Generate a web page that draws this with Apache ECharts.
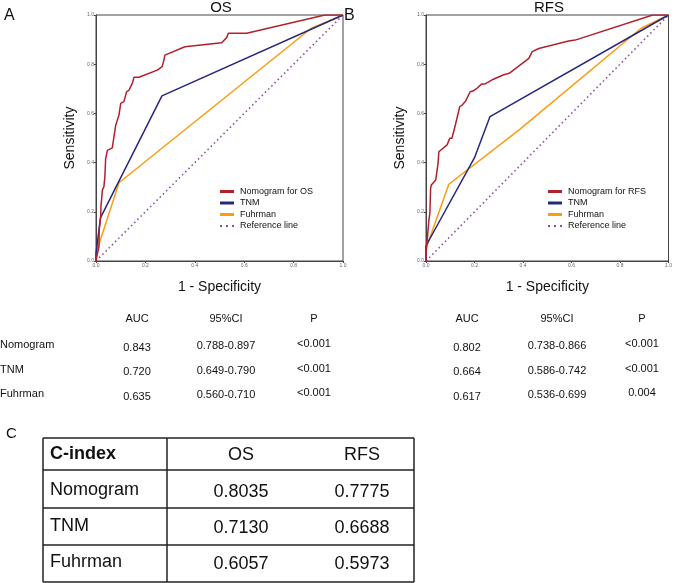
<!DOCTYPE html>
<html>
<head>
<meta charset="utf-8">
<script src="https://cdn.jsdelivr.net/npm/echarts@6/dist/echarts.min.js"></script>
<style>html,body{margin:0;padding:0;background:#fff}#c{width:675px;height:583px}</style>
</head>
<body>
<div id="c"></div>
<script>
// ---- Data ----
const tickLabels = ['0.0','0.2','0.4','0.6','0.8','1.0'];
// Panel A (OS)
const osNomoFpr  = [0,0.003,0.012,0.013,0.019,0.020,0.026,0.032,0.036,0.039,0.046,0.053,0.066,0.080,0.093,0.100,0.113,0.124,0.134,0.147,0.154,0.174,0.248,0.268,0.275,0.279,0.360,0.509,0.529,0.536,0.610,0.927,1];
const osNomoSens = [0,0.017,0.058,0.126,0.180,0.221,0.289,0.302,0.343,0.415,0.450,0.452,0.460,0.553,0.593,0.641,0.648,0.688,0.695,0.722,0.747,0.747,0.776,0.790,0.817,0.837,0.871,0.887,0.909,0.926,0.926,1.0,1];
const osTnmFpr   = [0,0,0.018,0.267,1];
const osTnmSens  = [0,0.03,0.175,0.671,1];
const osFuhFpr   = [0,0,0.093,0.870,1];
const osFuhSens  = [0,0.031,0.318,0.945,1];
// Panel B (RFS)
const rfsNomoFpr  = [0,0,0.005,0.012,0.016,0.019,0.022,0.040,0.046,0.050,0.053,0.087,0.098,0.107,0.121,0.139,0.149,0.162,0.182,0.193,0.210,0.230,0.244,0.278,0.318,0.343,0.424,0.438,0.465,0.588,0.615,0.935,1];
const rfsNomoSens = [0,0.030,0.085,0.167,0.194,0.295,0.309,0.329,0.370,0.400,0.444,0.472,0.499,0.499,0.553,0.627,0.634,0.648,0.688,0.691,0.702,0.720,0.720,0.739,0.756,0.763,0.824,0.851,0.864,0.894,0.898,1.0,1];
const rfsTnmFpr   = [0,0,0.200,0.264,1];
const rfsTnmSens  = [0,0.062,0.420,0.587,1];
const rfsFuhFpr   = [0,0,0.094,0.384,0.887,1];
const rfsFuhSens  = [0,0.050,0.312,0.533,0.946,1];
const refFpr  = [0,1];
const refSens = [0,1];

const aucHeaders = ['AUC','95%CI','P'];
const aucRowNames = ['Nomogram','TNM','Fuhrman'];
const osAuc = ['0.843','0.720','0.635'];
const osCI  = ['0.788-0.897','0.649-0.790','0.560-0.710'];
const osP   = ['<0.001','<0.001','<0.001'];
const rfsAuc = ['0.802','0.664','0.617'];
const rfsCI  = ['0.738-0.866','0.586-0.742','0.536-0.699'];
const rfsP   = ['<0.001','<0.001','0.004'];

const cHeaders = ['C-index','OS','RFS'];
const cRowNames = ['Nomogram','TNM','Fuhrman'];
const cOS  = ['0.8035','0.7130','0.6057'];
const cRFS = ['0.7775','0.6688','0.5973'];

// ---- Styles ----
const FONT = '"Liberation Sans", Arial, sans-serif';
const RED = '#B3202D', BLUE = '#27277F', ORANGE = '#FF9B0F', PURPLE = '#8E4C9E';
const zip = (a, b) => a.map((v, i) => [v, b[i]]);

const grids = [
  {left: 96, top: 15, width: 247, height: 246},
  {left: 426, top: 15, width: 245, height: 246}
];
function xAxis(i){
  return {gridIndex:i, type:'value', min:0, max:1, interval:0.2,
    name:'1 - Specificity', nameLocation:'middle', nameGap:19,
    nameTextStyle:{fontFamily:FONT, fontSize:14, color:'#111'},
    axisLine:{show:true, lineStyle:{color:'#444', width:1}},
    axisTick:{show:true, length:2, lineStyle:{color:'#444'}},
    axisLabel:{fontSize:5, color:'#666', margin:2, fontFamily:FONT,
      formatter:(v)=>tickLabels[Math.round(v*5)]},
    splitLine:{show:false}};
}
function yAxis(i){
  return {gridIndex:i, type:'value', min:0, max:1, interval:0.2,
    name:'Sensitivity', nameLocation:'middle', nameGap:18.5,
    nameTextStyle:{fontFamily:FONT, fontSize:14, color:'#111'},
    axisLine:{show:true, lineStyle:{color:'#444', width:1}},
    axisTick:{show:true, length:2, lineStyle:{color:'#444'}},
    axisLabel:{fontSize:5, color:'#666', margin:2, fontFamily:FONT,
      formatter:(v)=>tickLabels[Math.round(v*5)]},
    splitLine:{show:false}};
}
function line(name, i, fpr, sens, color, dotted){
  return {name, type:'line', xAxisIndex:i, yAxisIndex:i, data:zip(fpr, sens),
    showSymbol:false, symbol:'none', animation:false, silent:true,
    color, itemStyle:{color},
    lineStyle:{color, width: dotted ? 1.6 : 1.5, type: dotted ? [1.5, 3] : 'solid'},
    z: dotted ? 1 : 2};
}
const DOTS = 'path://M0,0h2v2h-2zM6,0h2v2h-2zM12,0h2v2h-2z';
function legend(left, names){
  return {orient:'vertical', left, top:187, padding:0, itemWidth:14, itemHeight:3, itemGap:2.5,
    selectedMode:false,
    itemStyle:{borderWidth:0},
    textStyle:{fontFamily:FONT, fontSize:9, color:'#111', lineHeight:9, padding:[0,0,0,1]},
    data:[{name:names[0], icon:'rect'},{name:names[1], icon:'rect'},{name:names[2], icon:'rect'},{name:names[3], icon:DOTS}]};
}

// ---- Graphic tables ----
const g = [];
function txt(x, y, s, size, align, bold){
  g.push({type:'text', x, y, silent:true,
    style:{text:s, fontFamily:FONT, fontSize:size, fill:'#111', align:align||'center', verticalAlign:'middle', fontWeight: bold?'bold':'normal'}});
}
// AUC tables
const aucColsA = [137, 226, 314], aucColsB = [467, 557, 642];
const headY = 319, rowY = [346, 370.5, 395];
aucHeaders.forEach((h, j) => { txt(aucColsA[j], headY, h, 11); txt(aucColsB[j], headY, h, 11); });
aucRowNames.forEach((n, r) => {
  txt(0, rowY[r] - 1, n, 11, 'left');
  txt(aucColsA[0], rowY[r] + 1.5, osAuc[r], 11); txt(aucColsA[1], rowY[r], osCI[r], 11); txt(aucColsA[2], rowY[r] - 2, osP[r], 11);
  txt(aucColsB[0], rowY[r] + 1.5, rfsAuc[r], 11); txt(aucColsB[1], rowY[r], rfsCI[r], 11); txt(aucColsB[2], rowY[r] - 2, rfsP[r], 11);
});
// C-index table
const tL = 43, tR = 414, tSplit = 167, tRows = [438, 470, 508, 545, 582];
const lineC = '#222';
tRows.forEach(y => g.push({type:'line', silent:true, shape:{x1:tL, y1:y, x2:tR, y2:y}, style:{stroke:lineC, lineWidth:1.5}}));
[tL, tSplit, tR].forEach(x => g.push({type:'line', silent:true, shape:{x1:x, y1:tRows[0], x2:x, y2:tRows[4]}, style:{stroke:lineC, lineWidth:1.5}}));
const cColX = [50, 241, 362];
txt(cColX[0], 454, cHeaders[0], 18, 'left', true);
txt(cColX[1], 455, cHeaders[1], 18); txt(cColX[2], 455, cHeaders[2], 18);
const cRowY = [490, 526, 562];
cRowNames.forEach((n, r) => {
  txt(cColX[0], cRowY[r], n, 18, 'left');
  txt(cColX[1], cRowY[r] + 2.5, cOS[r], 18);
  txt(cColX[2], cRowY[r] + 2.5, cRFS[r], 18);
});

const titleStyle = {fontFamily:FONT, fontSize:15, fontWeight:'normal', color:'#111'};
const option = {
  backgroundColor:'#fff',
  animation:false,
  title:[
    {text:'OS', left:221, top:0, textAlign:'center', padding:0, textStyle:titleStyle},
    {text:'RFS', left:549, top:0, textAlign:'center', padding:0, textStyle:titleStyle},
    {text:'A', left:4, top:8, padding:0, textStyle:{...titleStyle, fontSize:16}},
    {text:'B', left:344, top:8, padding:0, textStyle:{...titleStyle, fontSize:16}},
    {text:'C', left:6, top:426, padding:0, textStyle:{...titleStyle, fontSize:15}}
  ],
  grid: grids.map(gr => ({...gr, show:true, borderColor:'#444', borderWidth:1, backgroundColor:'transparent'})),
  xAxis:[xAxis(0), xAxis(1)],
  yAxis:[yAxis(0), yAxis(1)],
  legend:[
    legend(220, ['Nomogram for OS','TNM','Fuhrman','Reference line']),
    legend(548, ['Nomogram for RFS','TNM','Fuhrman','Reference line'])
  ],
  series:[
    line('Reference line', 0, refFpr, refSens, PURPLE, true),
    line('Fuhrman', 0, osFuhFpr, osFuhSens, ORANGE),
    line('TNM', 0, osTnmFpr, osTnmSens, BLUE),
    line('Nomogram for OS', 0, osNomoFpr, osNomoSens, RED),
    line('Reference line', 1, refFpr, refSens, PURPLE, true),
    line('Fuhrman', 1, rfsFuhFpr, rfsFuhSens, ORANGE),
    line('TNM', 1, rfsTnmFpr, rfsTnmSens, BLUE),
    line('Nomogram for RFS', 1, rfsNomoFpr, rfsNomoSens, RED)
  ],
  graphic: g
};
const chart = echarts.init(document.getElementById('c'), null, {renderer:'canvas'});
chart.setOption(option);
</script>
</body>
</html>
